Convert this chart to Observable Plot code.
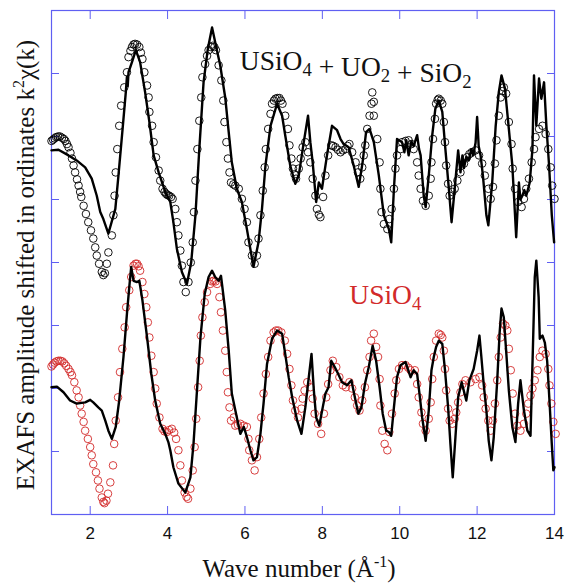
<!DOCTYPE html>
<html><head><meta charset="utf-8">
<script src="https://cdn.jsdelivr.net/npm/d3@7"></script>
<script src="https://cdn.jsdelivr.net/npm/@observablehq/plot@0.6"></script>
<style>body{margin:0;background:#fff} .serif{font-family:"Liberation Serif","Times New Roman","DejaVu Serif",serif !important;}</style>
</head><body><div id="chart"></div>
<script>
// [k (Å^-1), shifted k²χ(k)]
const topLine = [[1.00,5.78],[1.18,5.79],[1.44,5.70],[1.65,5.62],[1.87,5.51],[2.04,5.33],[2.17,5.06],[2.26,4.80],[2.34,4.69],[2.47,4.46],[2.65,4.85],[2.73,5.38],[2.83,6.07],[2.92,6.70],[2.95,6.95],[2.97,6.80],[2.99,7.02],[3.08,7.18],[3.18,7.37],[3.29,7.18],[3.42,6.70],[3.53,6.23],[3.64,5.70],[3.77,5.43],[3.94,5.12],[4.07,4.96],[4.15,4.64],[4.24,4.22],[4.37,3.85],[4.50,3.66],[4.61,4.00],[4.72,4.75],[4.82,5.80],[4.93,6.86],[5.04,7.39],[5.15,7.73],[5.25,7.44],[5.36,7.13],[5.49,6.62],[5.58,6.07],[5.66,5.59],[5.79,5.17],[5.92,4.96],[6.05,4.53],[6.22,3.93],[6.35,4.32],[6.44,4.85],[6.53,5.54],[6.66,6.17],[6.83,6.52],[6.96,6.33],[7.04,6.02],[7.17,5.54],[7.30,5.25],[7.39,5.38],[7.52,5.91],[7.63,6.33],[7.69,5.91],[7.75,5.59],[7.84,4.96],[7.91,5.27],[7.99,5.17],[8.12,5.70],[8.25,6.17],[8.38,6.10],[8.47,5.96],[8.55,5.88],[8.68,5.83],[8.81,5.54],[8.94,5.20],[9.04,5.59],[9.13,6.07],[9.22,6.12],[9.33,5.91],[9.46,5.38],[9.59,4.75],[9.72,4.53],[9.78,4.32],[9.85,5.17],[9.93,5.96],[10.06,5.91],[10.12,5.75],[10.17,5.94],[10.23,5.70],[10.30,5.92],[10.36,5.85],[10.45,6.02],[10.50,5.80],[10.54,5.70],[10.62,5.06],[10.67,4.88],[10.75,5.38],[10.84,6.02],[10.92,6.44],[11.01,6.57],[11.10,6.39],[11.18,5.80],[11.27,5.17],[11.34,4.64],[11.42,5.17],[11.51,5.78],[11.57,5.43],[11.62,5.70],[11.66,5.50],[11.72,5.68],[11.78,5.62],[11.85,5.80],[11.90,5.70],[11.96,5.90],[12.00,6.31],[12.04,5.85],[12.09,5.70],[12.15,5.38],[12.24,4.75],[12.29,4.59],[12.39,5.27],[12.48,6.17],[12.56,6.70],[12.63,6.97],[12.72,6.76],[12.82,6.12],[12.91,5.54],[12.98,4.75],[13.01,4.40],[13.08,5.27],[13.12,5.00],[13.17,5.06],[13.22,5.15],[13.27,5.06],[13.36,5.27],[13.43,5.80],[13.47,6.97],[13.53,6.17],[13.60,6.92],[13.66,6.60],[13.73,6.86],[13.79,6.17],[13.86,5.54],[13.93,4.75],[13.99,4.32]];

const topCircles = [[1.00,5.93],[1.04,5.95],[1.08,5.97],[1.12,5.99],[1.17,6.00],[1.22,6.00],[1.27,5.98],[1.32,5.96],[1.36,5.93],[1.40,5.88],[1.44,5.83],[1.49,5.74],[1.53,5.65],[1.57,5.54],[1.61,5.43],[1.66,5.32],[1.70,5.22],[1.74,5.12],[1.77,5.04],[1.83,4.90],[1.89,4.77],[1.95,4.64],[2.02,4.51],[2.08,4.38],[2.13,4.24],[2.17,4.11],[2.23,3.98],[2.30,3.85],[2.34,3.80],[2.38,3.83],[2.43,3.98],[2.47,4.16],[2.56,4.43],[2.60,4.75],[2.63,5.06],[2.66,5.43],[2.70,5.80],[2.75,6.17],[2.80,6.49],[2.88,6.78],[2.95,7.02],[2.99,7.26],[3.04,7.36],[3.08,7.42],[3.12,7.46],[3.16,7.47],[3.21,7.46],[3.27,7.42],[3.31,7.33],[3.35,7.23],[3.40,7.02],[3.47,6.81],[3.51,6.62],[3.53,6.39],[3.60,6.17],[3.64,5.91],[3.70,5.67],[3.77,5.46],[3.81,5.30],[3.87,5.17],[3.92,5.12],[3.96,5.09],[4.00,5.07],[4.04,5.06],[4.09,5.04],[4.13,5.01],[4.20,4.85],[4.24,4.64],[4.28,4.43],[4.33,4.19],[4.37,3.95],[4.41,3.69],[4.47,3.53],[4.54,3.69],[4.60,4.00],[4.65,4.32],[4.68,4.80],[4.72,5.30],[4.77,5.80],[4.82,6.25],[4.87,6.62],[4.90,6.94],[4.97,7.15],[5.02,7.28],[5.06,7.37],[5.12,7.42],[5.17,7.44],[5.21,7.42],[5.25,7.37],[5.32,7.13],[5.39,6.89],[5.44,6.57],[5.47,6.23],[5.52,5.91],[5.56,5.65],[5.60,5.43],[5.64,5.27],[5.70,5.24],[5.75,5.22],[5.84,5.17],[5.92,5.01],[5.99,4.85],[6.05,4.64],[6.09,4.32],[6.18,4.11],[6.25,3.98],[6.31,4.11],[6.35,4.38],[6.40,4.75],[6.46,5.14],[6.51,5.51],[6.54,5.80],[6.60,6.12],[6.66,6.36],[6.70,6.52],[6.75,6.57],[6.79,6.60],[6.84,6.61],[6.89,6.61],[6.93,6.57],[6.97,6.52],[7.04,6.33],[7.11,6.12],[7.15,5.86],[7.20,5.65],[7.24,5.49],[7.28,5.40],[7.32,5.33],[7.39,5.49],[7.44,5.65],[7.49,5.83],[7.56,5.91],[7.63,5.75],[7.69,5.59],[7.75,5.33],[7.82,5.06],[7.86,4.85],[7.91,4.76],[7.95,4.72],[8.02,5.04],[8.08,5.38],[8.15,5.70],[8.23,5.86],[8.28,5.85],[8.34,5.83],[8.40,5.79],[8.47,5.75],[8.53,5.78],[8.60,5.80],[8.65,5.85],[8.70,5.88],[8.77,5.75],[8.86,5.59],[8.92,5.43],[8.98,5.33],[9.03,5.51],[9.07,5.70],[9.11,5.86],[9.16,6.12],[9.22,6.33],[9.27,6.52],[9.33,6.33],[9.29,6.70],[9.33,6.55],[9.42,5.96],[9.48,5.59],[9.50,5.17],[9.53,4.80],[9.59,4.61],[9.68,4.53],[9.73,4.69],[9.79,4.85],[9.85,5.17],[9.89,5.49],[9.93,5.70],[10.02,5.80],[10.06,5.91],[10.15,5.93],[10.23,5.94],[10.30,5.88],[10.36,5.80],[10.45,5.59],[10.49,5.38],[10.54,5.17],[10.60,4.98],[10.67,4.90],[10.75,5.06],[10.80,5.33],[10.82,5.59],[10.86,5.96],[10.91,6.28],[10.94,6.52],[10.98,6.58],[11.01,6.60],[11.06,6.57],[11.10,6.52],[11.14,6.23],[11.17,5.91],[11.20,5.54],[11.25,5.25],[11.29,5.06],[11.36,5.12],[11.42,5.17],[11.49,5.30],[11.57,5.43],[11.66,5.57],[11.74,5.67],[11.80,5.72],[11.86,5.75],[11.96,5.78],[12.05,5.70],[12.13,5.57],[12.20,5.38],[12.29,5.17],[12.35,5.01],[12.41,5.20],[12.46,5.57],[12.50,5.94],[12.56,6.33],[12.61,6.62],[12.65,6.72],[12.69,6.78],[12.75,6.68],[12.82,6.23],[12.89,5.88],[12.92,5.49],[12.98,5.17],[13.06,4.96],[13.15,4.88],[13.21,5.01],[13.27,5.17],[13.34,5.33],[13.41,5.59],[13.47,5.80],[13.51,5.99],[13.60,6.12],[13.69,6.17],[13.77,6.04],[13.84,5.80],[13.90,5.51],[13.94,5.22],[14.00,5.01]];

const bottomLine = [[1.00,2.02],[1.14,2.03],[1.31,1.94],[1.48,1.81],[1.65,1.76],[1.87,1.78],[2.00,1.82],[2.08,1.78],[2.21,1.70],[2.30,1.65],[2.39,1.49],[2.47,1.33],[2.56,1.20],[2.66,1.39],[2.75,1.81],[2.86,2.50],[2.95,3.19],[3.01,3.61],[3.06,3.93],[3.12,3.71],[3.21,3.69],[3.27,3.71],[3.35,3.40],[3.47,2.81],[3.58,2.23],[3.68,1.81],[3.81,1.44],[3.94,1.28],[4.02,1.15],[4.07,1.02],[4.15,0.75],[4.28,0.49],[4.46,0.35],[4.59,0.59],[4.67,1.12],[4.76,1.97],[4.85,2.81],[4.96,3.50],[5.06,3.77],[5.15,3.87],[5.23,3.77],[5.32,3.71],[5.38,3.79],[5.49,3.24],[5.58,2.60],[5.66,1.92],[5.79,1.54],[5.88,1.28],[5.97,1.39],[6.05,1.23],[6.14,1.02],[6.22,0.86],[6.31,0.91],[6.40,1.28],[6.48,1.76],[6.57,2.39],[6.70,2.79],[6.83,2.92],[6.96,2.87],[7.04,2.55],[7.13,2.18],[7.22,1.86],[7.35,1.49],[7.46,1.28],[7.56,1.70],[7.65,2.18],[7.72,2.55],[7.78,1.97],[7.84,1.54],[7.92,1.41],[8.01,1.70],[8.08,1.92],[8.16,2.02],[8.23,2.44],[8.32,2.34],[8.41,2.23],[8.51,2.10],[8.64,2.05],[8.75,2.13],[8.84,1.86],[8.93,1.60],[9.01,1.70],[9.10,2.07],[9.20,2.34],[9.30,2.68],[9.39,2.44],[9.48,2.02],[9.56,1.60],[9.65,1.33],[9.72,1.31],[9.78,1.25],[9.85,1.70],[9.93,2.18],[10.02,2.37],[10.15,2.42],[10.28,2.18],[10.36,2.29],[10.45,2.23],[10.51,1.92],[10.58,1.54],[10.67,1.17],[10.75,1.65],[10.82,2.29],[10.88,2.50],[10.94,2.66],[11.01,2.76],[11.10,2.71],[11.17,2.29],[11.25,1.70],[11.31,1.12],[11.37,0.59],[11.44,1.23],[11.51,1.86],[11.60,2.10],[11.72,1.81],[11.80,2.13],[11.91,2.31],[12.00,2.60],[12.06,2.84],[12.11,2.50],[12.17,2.07],[12.24,1.65],[12.30,1.17],[12.37,0.86],[12.43,1.23],[12.52,2.13],[12.58,2.87],[12.63,3.27],[12.69,3.13],[12.75,2.60],[12.82,1.97],[12.91,1.39],[12.99,1.15],[13.06,1.76],[13.12,2.13],[13.21,1.65],[13.30,1.33],[13.38,1.25],[13.44,2.60],[13.49,3.77],[13.53,4.03],[13.59,3.45],[13.62,2.79],[13.69,2.84],[13.75,2.73],[13.81,2.44],[13.87,1.81],[13.93,1.12],[13.97,0.70],[14.00,0.75]];

const bottomCircles = [[1.00,2.35],[1.04,2.38],[1.08,2.41],[1.13,2.43],[1.18,2.44],[1.23,2.44],[1.28,2.43],[1.33,2.40],[1.38,2.36],[1.44,2.31],[1.49,2.26],[1.53,2.21],[1.59,2.10],[1.65,1.97],[1.70,1.86],[1.74,1.73],[1.78,1.60],[1.83,1.47],[1.87,1.33],[1.94,1.20],[2.00,1.07],[2.04,0.94],[2.08,0.80],[2.15,0.67],[2.20,0.54],[2.24,0.41],[2.30,0.27],[2.34,0.20],[2.37,0.18],[2.42,0.22],[2.46,0.33],[2.52,0.51],[2.59,0.78],[2.62,1.12],[2.66,1.49],[2.72,1.86],[2.77,2.26],[2.83,2.63],[2.89,2.97],[2.93,3.29],[3.01,3.56],[3.06,3.77],[3.12,3.95],[3.17,3.98],[3.21,3.98],[3.25,3.94],[3.29,3.87],[3.35,3.69],[3.40,3.50],[3.45,3.29],[3.49,3.05],[3.53,2.81],[3.58,2.52],[3.64,2.26],[3.68,2.00],[3.72,1.76],[3.79,1.54],[3.87,1.36],[3.92,1.32],[3.98,1.31],[4.04,1.34],[4.11,1.36],[4.17,1.30],[4.22,1.20],[4.28,1.02],[4.33,0.78],[4.37,0.54],[4.44,0.35],[4.49,0.28],[4.53,0.25],[4.59,0.41],[4.65,0.70],[4.70,1.07],[4.74,1.52],[4.79,2.02],[4.83,2.44],[4.86,2.84],[4.90,3.13],[4.96,3.37],[5.02,3.53],[5.10,3.66],[5.15,3.70],[5.19,3.71],[5.24,3.70],[5.28,3.66],[5.34,3.45],[5.38,3.21],[5.43,2.92],[5.49,2.60],[5.53,2.26],[5.56,1.94],[5.60,1.70],[5.64,1.49],[5.71,1.54],[5.75,1.41],[5.82,1.42],[5.88,1.44],[5.97,1.41],[6.05,1.39],[6.09,1.20],[6.11,1.02],[6.18,0.86],[6.25,0.70],[6.31,0.91],[6.37,1.20],[6.42,1.54],[6.48,1.92],[6.54,2.23],[6.60,2.50],[6.66,2.76],[6.74,2.89],[6.80,2.92],[6.86,2.92],[6.94,2.89],[7.03,2.76],[7.09,2.55],[7.15,2.31],[7.20,2.05],[7.24,1.81],[7.30,1.65],[7.37,1.54],[7.46,1.68],[7.49,1.84],[7.54,1.97],[7.61,2.10],[7.69,2.02],[7.75,1.84],[7.80,1.60],[7.89,1.44],[7.97,1.28],[8.04,1.60],[8.10,1.86],[8.15,2.07],[8.21,2.29],[8.27,2.44],[8.36,2.34],[8.44,2.18],[8.53,2.05],[8.61,2.02],[8.70,2.10],[8.77,2.00],[8.84,1.86],[8.90,1.73],[8.96,1.65],[9.03,1.81],[9.10,2.02],[9.16,2.29],[9.22,2.50],[9.26,2.76],[9.33,2.87],[9.39,2.66],[9.44,2.50],[9.48,2.15],[9.50,1.73],[9.55,1.33],[9.61,1.12],[9.68,1.02],[9.73,1.31],[9.80,1.60],[9.87,1.92],[9.91,2.13],[9.98,2.31],[10.06,2.37],[10.15,2.37],[10.22,2.33],[10.28,2.29],[10.39,2.29],[10.45,2.07],[10.49,1.86],[10.56,1.62],[10.60,1.44],[10.67,1.33],[10.75,1.52],[10.80,1.78],[10.84,2.15],[10.88,2.50],[10.94,2.76],[11.01,2.87],[11.06,2.85],[11.10,2.81],[11.14,2.60],[11.17,2.31],[11.20,1.97],[11.25,1.68],[11.29,1.49],[11.36,1.44],[11.42,1.52],[11.46,1.62],[11.51,1.78],[11.57,1.94],[11.62,2.07],[11.70,2.13],[11.83,2.10],[11.96,2.15],[12.06,2.18],[12.13,2.05],[12.17,1.86],[12.22,1.68],[12.29,1.49],[12.35,1.33],[12.41,1.49],[12.46,1.76],[12.52,2.13],[12.56,2.50],[12.61,2.81],[12.67,3.03],[12.73,3.00],[12.78,2.92],[12.82,2.63],[12.87,2.29],[12.92,1.92],[12.98,1.60],[13.04,1.41],[13.12,1.33],[13.21,1.44],[13.27,1.60],[13.32,1.76],[13.38,1.89],[13.43,2.00],[13.49,2.13],[13.56,2.29],[13.62,2.50],[13.69,2.60],[13.77,2.55],[13.84,2.31],[13.87,2.05],[13.92,1.76],[13.97,1.47],[14.03,1.28]];

const xTicks = [2, 4, 6, 8, 10, 12];
const xTickLabels = [2, 4, 6, 8, 10, 12, 14];
const yTicks = [1, 2, 3, 4, 5, 6, 7];

const frameColor = "#5f5ff2";
const redColor = "#d22a2a";

const X = d => d[0], Y = d => d[1];
const blank = () => "";

const chart = Plot.plot({
  width: 564, height: 584,
  marginLeft: 51, marginRight: 10, marginTop: 10, marginBottom: 70,
  x: {domain: [1, 14]},
  y: {domain: [0, 8]},
  style: {background: "white", fontFamily: "'Liberation Sans', Arial, sans-serif", overflow: "visible"},
  marks: [
    Plot.axisX({ticks: xTicks, anchor: "bottom", tickSize: 8, dy: -8, tickFormat: blank, label: null, stroke: frameColor}),
    Plot.axisX({ticks: xTicks, anchor: "top", tickSize: 8, dy: 8, tickFormat: blank, label: null, stroke: frameColor}),
    Plot.axisX({ticks: xTickLabels, anchor: "bottom", tickSize: 0, tickPadding: 12, fontSize: 17, label: null, fill: "#111"}),
    Plot.axisY({ticks: yTicks, anchor: "left", tickSize: 8, dx: 8, tickFormat: blank, label: null, stroke: frameColor}),
    Plot.axisY({ticks: yTicks, anchor: "right", tickSize: 8, dx: -8, tickFormat: blank, label: null, stroke: frameColor}),
    Plot.frame({stroke: frameColor, strokeWidth: 1.2}),
    Plot.dot(topCircles, {x: X, y: Y, r: 3.8, stroke: "black", strokeWidth: 0.9, fill: "none"}),
    Plot.line(topLine, {x: X, y: Y, stroke: "black", strokeWidth: 2.4, curve: "linear"}),
    Plot.dot(bottomCircles, {x: X, y: Y, r: 3.8, stroke: redColor, strokeWidth: 0.9, fill: "none"}),
    Plot.line(bottomLine, {x: X, y: Y, stroke: "black", strokeWidth: 2.4, curve: "linear"})
  ]
});

document.getElementById("chart").appendChild(chart);

const sx = chart.scale("x"), sy = chart.scale("y");
const svg = d3.select(chart);

function chemLabel(parts, k, y, color, size) {
  const t = svg.append("text").attr("class", "serif")
    .attr("x", sx.apply(k)).attr("y", sy.apply(y))
    .attr("text-anchor", "start")
    .attr("fill", color).style("font-size", size + "px");
  parts.forEach(([s, sub]) => {
    if (sub) {
      t.append("tspan").style("font-size", (size * 0.68) + "px").attr("dy", size * 0.22).text(s);
      t.append("tspan").attr("dy", -size * 0.22).text("");
    } else {
      t.append("tspan").text(s);
    }
  });
}

chemLabel([["USiO"],["4",1],[" + UO"],["2",1],[" + SiO"],["2",1]], 5.88, 7.05, "#111", 27.5);
chemLabel([["USiO"],["4",1]], 8.71, 3.33, redColor, 27.5);

// Axis titles
const xt = svg.append("text").attr("class", "serif").attr("x", 299).attr("y", 577).attr("text-anchor", "middle")
  .style("font-size", "25px").attr("fill", "#111");
xt.append("tspan").text("Wave number (Å");
xt.append("tspan").style("font-size", "16px").attr("dy", -10).text("-1");
xt.append("tspan").attr("dy", 10).text(")");

const yt = svg.append("text").attr("class", "serif").attr("transform", "translate(34,265) rotate(-90)").attr("text-anchor", "middle")
  .style("font-size", "25px").attr("fill", "#111");
yt.append("tspan").text("EXAFS amplitude shifted in ordinates k");
yt.append("tspan").style("font-size", "16px").attr("dy", -10).text("2");
yt.append("tspan").attr("dy", 10).text("χ(k)");
</script>
</body></html>
